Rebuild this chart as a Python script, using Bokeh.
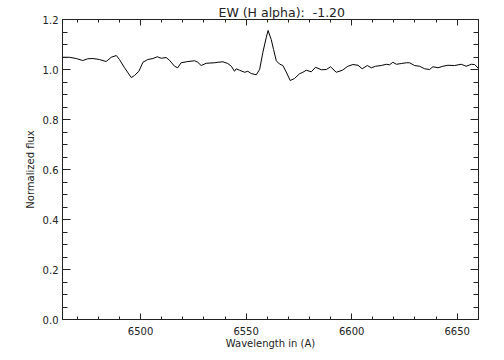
from bokeh.plotting import figure
from bokeh.models import LinearAxis, SingleIntervalTicker, NumeralTickFormatter, Range1d, CustomJSTickFormatter
from bokeh.embed import file_html
from bokeh.resources import INLINE

wavelength = [6463.0, 6466.3, 6469.5, 6472.6, 6475.0, 6477.4, 6480.5, 6483.7, 6486.1, 6488.5,
              6490.0, 6492.4, 6494.0, 6495.6, 6497.1, 6499.2, 6501.1, 6503.4, 6505.8, 6507.9,
              6509.8, 6512.1, 6513.7, 6516.1, 6517.6, 6519.2, 6522.4, 6525.6, 6527.1, 6528.7,
              6531.1, 6535.0, 6536.6, 6539.0, 6541.3, 6543.0, 6544.5, 6545.3, 6546.9, 6549.3,
              6550.8, 6552.4, 6554.8, 6556.4, 6557.9, 6559.5, 6560.4, 6561.9, 6563.0, 6564.3,
              6565.8, 6567.4, 6569.0, 6570.9, 6572.9, 6575.3, 6576.9, 6578.5, 6580.9, 6582.9,
              6585.6, 6588.0, 6590.0, 6592.7, 6595.6, 6598.2, 6600.6, 6603.0, 6605.0, 6607.4,
              6609.3, 6611.3, 6614.0, 6616.4, 6618.0, 6619.5, 6621.2, 6623.5, 6625.9, 6627.5,
              6629.8, 6632.2, 6634.6, 6636.9, 6638.5, 6640.9, 6643.2, 6645.6, 6648.8, 6651.9,
              6654.3, 6656.7, 6658.3, 6660.2]
flux = [1.049, 1.049, 1.044, 1.036, 1.043, 1.044, 1.040, 1.032, 1.049, 1.056,
        1.040, 1.007, 0.987, 0.968, 0.976, 0.993, 1.029, 1.040, 1.044, 1.051,
        1.045, 1.048, 1.037, 1.013, 1.007, 1.027, 1.032, 1.035, 1.029, 1.016,
        1.025, 1.027, 1.029, 1.031, 1.024, 1.013, 0.993, 1.003, 0.997, 0.989,
        0.993, 0.984, 0.979, 1.000, 1.067, 1.127, 1.156, 1.120, 1.080, 1.035,
        1.022, 1.016, 0.990, 0.956, 0.964, 0.983, 0.989, 0.997, 0.991, 1.009,
        0.999, 1.000, 1.011, 0.989, 0.997, 1.013, 1.020, 1.017, 1.003, 1.016,
        1.007, 1.013, 1.016, 1.021, 1.019, 1.029, 1.021, 1.024, 1.027, 1.027,
        1.016, 1.013, 1.003, 1.000, 1.011, 1.007, 1.013, 1.017, 1.016, 1.021,
        1.013, 1.021, 1.020, 1.003]

title_text = "EW (H alpha):\u00a0 -1.20"
x_label = "Wavelength in (A)"
y_label = "Normalized flux"

FONT = "DejaVu Sans"

p = figure(width=500, height=355, output_backend="svg", toolbar_location=None,
           x_range=Range1d(6463.0, 6660.1), y_range=Range1d(0.0, 1.2001),
           x_axis_type=None, y_axis_type=None,
           min_border_left=62, min_border_right=22, min_border_bottom=36, min_border_top=19)
p.grid.visible = False
p.outline_line_color = None
p.background_fill_color = "white"
p.border_fill_color = "white"

p.title.text = title_text
p.title.text_font = FONT
p.title.text_font_size = "12.5px"
p.title.text_font_style = "normal"
p.title.text_color = "#222222"
p.title.align = "left"
p.title.offset = 156
p.title.standoff = 0


def style(ax, show_labels, major_len, minor_len):
    ax.axis_line_color = "#222222"
    ax.axis_line_width = 1
    ax.major_tick_line_color = "#222222"
    ax.minor_tick_line_color = "#222222"
    ax.major_tick_in = major_len
    ax.major_tick_out = 0
    ax.minor_tick_in = minor_len
    ax.minor_tick_out = 0
    ax.major_label_text_font = FONT
    ax.axis_label_text_font = FONT
    ax.axis_label_text_font_style = "normal"
    ax.axis_label_text_font_size = "10px"
    ax.major_label_text_color = "#222222"
    ax.axis_label_text_color = "#222222"
    ax.major_label_text_font_size = "10px"
    if not show_labels:
        ax.formatter = CustomJSTickFormatter(code="return ''")
        ax.major_label_standoff = 0


def xticker():
    return SingleIntervalTicker(interval=50, num_minor_ticks=5)


def yticker():
    return SingleIntervalTicker(interval=0.2, num_minor_ticks=4)


xb = LinearAxis(ticker=xticker(), axis_label=x_label)
style(xb, True, 6, 3)
xb.major_label_standoff = 7
xb.axis_label_standoff = 0
p.add_layout(xb, "below")

xt = LinearAxis(ticker=xticker())
style(xt, False, 6, 3)
p.add_layout(xt, "above")

yl = LinearAxis(ticker=yticker(), axis_label=y_label,
                formatter=NumeralTickFormatter(format="0.0"))
style(yl, True, 8, 5)
yl.major_label_standoff = 4
yl.axis_label_standoff = 4
p.add_layout(yl, "left")

yr = LinearAxis(ticker=yticker())
style(yr, False, 8, 5)
p.add_layout(yr, "right")

p.line(wavelength, flux, line_color="black", line_width=1)

open("out.html", "w").write(file_html(p, INLINE))
